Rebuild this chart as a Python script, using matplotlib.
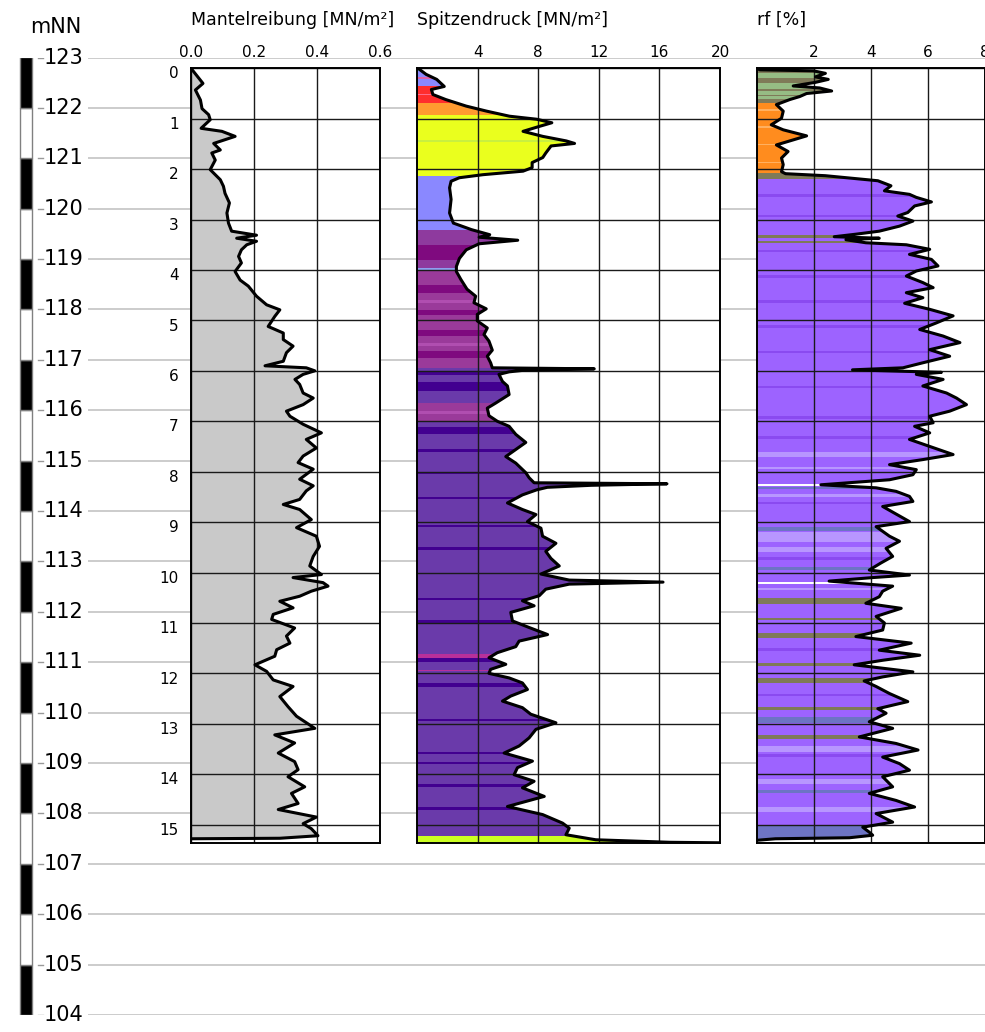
import numpy as np
import matplotlib.pyplot as plt
from matplotlib.patches import Polygon, Rectangle
from matplotlib import transforms

# elevation scale [mNN]
elev_ticks = list(range(104, 124))

# Mantelreibung [MN/m²] over depth [m]
fs_depth = [0.00, 0.30, 0.43, 0.63, 0.80, 0.92, 1.02, 1.19, 1.25, 1.35,
            1.49, 1.62, 1.68, 1.82, 2.01, 2.21, 2.34, 2.48, 2.67, 2.87,
            3.07, 3.23, 3.31, 3.37, 3.43, 3.50, 3.60, 3.73, 3.86, 4.03,
            4.20, 4.32, 4.52, 4.69, 4.79, 4.92, 5.12, 5.25, 5.38, 5.51,
            5.64, 5.81, 5.90, 5.94, 6.00, 6.07, 6.17, 6.27, 6.44, 6.54,
            6.67, 6.80, 6.90, 7.06, 7.23, 7.36, 7.53, 7.69, 7.82, 7.95,
            8.15, 8.28, 8.38, 8.55, 8.65, 8.75, 8.95, 9.11, 9.28, 9.48,
            9.68, 9.87, 10.04, 10.10, 10.20, 10.27, 10.37, 10.47, 10.57, 10.70,
            10.83, 10.93, 11.10, 11.26, 11.40, 11.53, 11.66, 11.83, 11.96, 12.13,
            12.26, 12.46, 12.66, 12.85, 13.09, 13.22, 13.38, 13.58, 13.75, 13.91,
            14.05, 14.25, 14.38, 14.58, 14.70, 14.85, 14.98, 15.08, 15.22, 15.27,
            15.28]
fs_value = [0.000, 0.038, 0.014, 0.030, 0.035, 0.056, 0.061, 0.032, 0.098, 0.140,
            0.072, 0.093, 0.066, 0.077, 0.061, 0.093, 0.103, 0.108, 0.122, 0.114,
            0.119, 0.129, 0.208, 0.145, 0.208, 0.177, 0.160, 0.151, 0.160, 0.140,
            0.156, 0.182, 0.208, 0.240, 0.282, 0.266, 0.245, 0.293, 0.293, 0.324,
            0.303, 0.293, 0.235, 0.366, 0.393, 0.356, 0.330, 0.345, 0.356, 0.388,
            0.356, 0.303, 0.314, 0.356, 0.414, 0.366, 0.398, 0.356, 0.340, 0.388,
            0.345, 0.388, 0.366, 0.345, 0.293, 0.345, 0.382, 0.335, 0.398, 0.408,
            0.388, 0.377, 0.414, 0.324, 0.419, 0.435, 0.382, 0.345, 0.282, 0.324,
            0.261, 0.256, 0.329, 0.303, 0.314, 0.272, 0.266, 0.203, 0.240, 0.261,
            0.324, 0.282, 0.308, 0.335, 0.393, 0.266, 0.329, 0.277, 0.329, 0.340,
            0.308, 0.361, 0.319, 0.340, 0.277, 0.398, 0.356, 0.382, 0.403, 0.282,
            0.000]

# Spitzendruck [MN/m²]
qc_depth = [0.00, 0.12, 0.22, 0.36, 0.42, 0.52, 0.62, 0.75, 0.85, 0.95,
            1.01, 1.08, 1.15, 1.25, 1.35, 1.44, 1.49, 1.54, 1.68, 1.77,
            1.87, 1.97, 2.04, 2.11, 2.17, 2.24, 2.37, 2.60, 2.87, 3.07,
            3.20, 3.30, 3.35, 3.41, 3.48, 3.60, 3.77, 3.93, 4.03, 4.19,
            4.38, 4.52, 4.65, 4.77, 4.88, 5.01, 5.15, 5.28, 5.41, 5.59,
            5.71, 5.84, 5.94, 5.96, 5.99, 6.02, 6.07, 6.21, 6.30, 6.47,
            6.64, 6.74, 6.89, 7.00, 7.10, 7.26, 7.42, 7.56, 7.70, 7.83,
            8.02, 8.12, 8.22, 8.24, 8.27, 8.31, 8.36, 8.46, 8.62, 8.75,
            8.85, 8.99, 9.12, 9.28, 9.42, 9.58, 9.72, 9.87, 10.03, 10.15,
            10.19, 10.23, 10.33, 10.46, 10.56, 10.66, 10.79, 10.96, 11.09, 11.23,
            11.36, 11.47, 11.59, 11.69, 11.82, 11.92, 12.00, 12.09, 12.19, 12.32,
            12.45, 12.55, 12.68, 12.81, 12.98, 13.11, 13.28, 13.44, 13.58, 13.74,
            13.87, 14.01, 14.14, 14.27, 14.44, 14.64, 14.80, 14.97, 15.07, 15.20,
            15.30, 15.35, 15.36]
qc_value = [0.07, 0.60, 1.30, 1.80, 0.95, 1.05, 1.90, 3.25, 4.60, 6.10,
            7.90, 8.90, 8.10, 7.00, 8.30, 9.85, 10.40, 8.85, 8.50, 8.30,
            7.60, 7.60, 7.00, 4.35, 2.80, 2.25, 2.15, 2.25, 2.15, 2.40,
            3.60, 4.80, 4.10, 6.65, 4.10, 3.25, 2.80, 2.60, 2.60, 2.90,
            3.30, 3.87, 3.76, 4.57, 3.98, 3.98, 4.64, 4.42, 4.75, 4.97,
            4.64, 4.86, 4.97, 11.70, 7.00, 6.08, 5.41, 5.64, 5.97, 6.08,
            5.19, 4.64, 4.75, 5.30, 6.08, 6.52, 7.18, 6.52, 5.86, 6.52,
            7.18, 7.40, 7.73, 16.50, 11.50, 8.60, 7.90, 6.96, 5.97, 6.96,
            7.85, 7.29, 8.18, 8.29, 9.17, 8.50, 8.84, 9.39, 8.18, 10.05,
            16.24, 10.05, 8.50, 8.07, 6.96, 7.73, 6.19, 6.30, 7.40, 8.62,
            6.74, 6.52, 5.30, 4.75, 5.86, 4.86, 4.75, 6.08, 6.96, 7.29,
            6.19, 5.64, 6.96, 7.51, 9.17, 7.85, 7.40, 6.74, 5.75, 7.62,
            6.63, 6.41, 7.73, 6.96, 8.40, 5.97, 8.29, 9.61, 10.05, 9.83,
            11.80, 16.70, 20.00]

# Reibungsverhältnis rf [%]
rf_depth = [0.00, 0.03, 0.05, 0.10, 0.17, 0.22, 0.28, 0.35, 0.39, 0.45,
            0.50, 0.56, 0.62, 0.72, 0.85, 0.99, 1.12, 1.22, 1.34, 1.42,
            1.52, 1.65, 1.78, 1.91, 2.05, 2.09, 2.13, 2.23, 2.33, 2.43,
            2.50, 2.56, 2.65, 2.73, 2.86, 2.93, 3.03, 3.13, 3.23, 3.29,
            3.34, 3.37, 3.40, 3.46, 3.50, 3.59, 3.69, 3.79, 3.92, 4.02,
            4.12, 4.25, 4.35, 4.45, 4.55, 4.66, 4.78, 4.91, 5.05, 5.18,
            5.31, 5.44, 5.58, 5.71, 5.84, 5.94, 5.98, 6.03, 6.07, 6.17,
            6.30, 6.44, 6.54, 6.67, 6.80, 6.90, 7.03, 7.10, 7.23, 7.36,
            7.50, 7.66, 7.76, 7.86, 7.96, 8.06, 8.16, 8.26, 8.32, 8.39,
            8.49, 8.59, 8.69, 8.82, 8.99, 9.09, 9.28, 9.38, 9.52, 9.68,
            9.81, 9.95, 10.05, 10.10, 10.17, 10.27, 10.37, 10.48, 10.61, 10.71,
            10.87, 11.00, 11.14, 11.27, 11.40, 11.54, 11.64, 11.74, 11.83, 11.97,
            12.07, 12.15, 12.26, 12.40, 12.56, 12.70, 12.79, 12.96, 13.09, 13.26,
            13.39, 13.52, 13.66, 13.79, 13.92, 14.05, 14.25, 14.38, 14.52, 14.65,
            14.78, 14.95, 15.05, 15.15, 15.21, 15.26, 15.28, 15.31]
rf_value = [0.00, 0.10, 1.98, 2.40, 2.05, 2.50, 2.04, 1.27, 2.20, 2.62,
            1.74, 1.50, 1.15, 0.68, 0.92, 0.86, 0.50, 0.92, 1.74, 1.27,
            0.68, 1.09, 0.86, 0.92, 0.86, 1.00, 2.40, 4.24, 4.70, 4.47,
            5.35, 5.59, 6.12, 5.53, 5.29, 4.94, 5.47, 5.00, 4.29, 3.47,
            2.71, 4.29, 3.12, 3.82, 5.24, 6.06, 5.35, 6.12, 6.35, 5.59,
            5.24, 5.82, 6.18, 5.24, 5.82, 5.18, 6.06, 6.88, 6.29, 5.71,
            6.53, 7.12, 6.06, 6.76, 5.82, 5.12, 3.35, 6.47, 5.59, 6.53,
            5.82, 6.65, 7.00, 7.35, 6.76, 6.06, 6.18, 5.53, 6.06, 5.35,
            6.06, 6.88, 5.82, 4.65, 5.59, 5.47, 4.65, 2.24, 4.18, 4.88,
            5.35, 5.47, 4.41, 4.82, 5.35, 4.18, 4.65, 5.00, 4.53, 4.76,
            4.35, 3.94, 5.35, 4.06, 2.53, 4.76, 4.41, 4.29, 3.82, 5.06,
            4.18, 4.47, 4.41, 3.47, 5.41, 4.29, 5.71, 4.41, 3.41, 5.47,
            4.41, 3.76, 4.18, 4.65, 5.29, 4.24, 4.53, 3.94, 4.76, 3.59,
            4.88, 5.65, 4.41, 5.00, 5.35, 4.41, 4.76, 3.94, 4.88, 5.53,
            4.18, 4.76, 3.71, 3.94, 4.06, 3.24, 0.65, 0.00]

# soil class colours
palette = {
    'grau': '#c9c9c9', 'cyan': '#50c8e8', 'blau': '#8a88ff', 'rosa': '#e060a8',
    'rot': '#ff2d2d', 'lachs': '#ff6a8a', 'orange_qc': '#ff9a30', 'gelb': '#eaff1e',
    'gelbgruen': '#c8f040', 'purpur': '#8e3a9e', 'dunkelpurpur': '#7f0a7f',
    'hellblau': '#8ea0f0', 'magenta': '#9a3a9a', 'hellmagenta': '#b04eb0',
    'violett': '#6a3aaa', 'indigo': '#420090', 'pink': '#b8309a', 'limette': '#ccff22',
    'oliv': '#7f7a58', 'gruen': '#96bc84', 'orange': '#ff8c1e', 'hellorange': '#ffb060',
    'lila': '#9d63ff', 'dunkellila': '#8a4af0', 'lavendel': '#b896ff',
    'graublau': '#6d74c4', 'weiss': '#ffffff',
}

fs_layers = [(0.0, 15.4, 'grau')]

qc_layers = [
    (0.00, 0.06, 'cyan'), (0.06, 0.36, 'blau'), (0.18, 0.22, 'rosa'),
    (0.36, 0.68, 'rot'), (0.50, 0.53, 'lachs'), (0.68, 0.92, 'orange_qc'),
    (0.92, 2.14, 'gelb'), (1.42, 1.47, 'gelbgruen'), (2.14, 3.20, 'blau'),
    (3.20, 3.50, 'purpur'), (3.50, 3.80, 'dunkelpurpur'), (3.80, 3.97, 'purpur'),
    (3.97, 4.02, 'hellblau'), (4.02, 5.95, 'magenta'),
    (4.30, 4.45, 'dunkelpurpur'), (4.80, 4.90, 'dunkelpurpur'), (5.20, 5.30, 'dunkelpurpur'),
    (5.60, 5.75, 'dunkelpurpur'), (4.60, 4.65, 'hellmagenta'), (5.45, 5.50, 'hellmagenta'),
    (5.95, 6.64, 'violett'), (6.00, 6.08, 'indigo'), (6.22, 6.40, 'indigo'),
    (6.64, 7.00, 'magenta'), (6.80, 6.85, 'hellmagenta'), (7.00, 15.22, 'violett'),
    (7.12, 7.25, 'indigo'), (7.55, 7.60, 'indigo'), (8.00, 8.05, 'indigo'),
    (8.50, 8.55, 'indigo'), (9.05, 9.10, 'indigo'), (9.50, 9.55, 'indigo'),
    (10.50, 10.55, 'indigo'), (10.95, 11.00, 'indigo'), (11.70, 11.78, 'indigo'),
    (12.20, 12.28, 'indigo'), (12.90, 12.95, 'indigo'), (13.55, 13.60, 'indigo'),
    (13.75, 13.80, 'indigo'), (14.20, 14.25, 'indigo'), (14.65, 14.70, 'indigo'),
    (11.62, 11.70, 'pink'), (11.93, 11.96, 'pink'), (15.22, 15.40, 'limette'),
]

rf_layers = [
    (0.00, 0.10, 'oliv'), (0.10, 0.20, 'gruen'), (0.20, 0.30, 'oliv'),
    (0.30, 0.60, 'gruen'), (0.42, 0.45, 'oliv'), (0.52, 0.55, 'oliv'),
    (0.60, 0.68, 'oliv'), (0.68, 2.08, 'orange'), (0.80, 0.84, 'hellorange'),
    (1.15, 1.19, 'hellorange'), (1.50, 1.53, 'hellorange'), (1.85, 1.88, 'hellorange'),
    (2.08, 2.20, 'oliv'), (2.20, 15.40, 'lila'),
    (2.50, 2.55, 'dunkellila'), (2.90, 2.95, 'dunkellila'), (3.60, 3.65, 'dunkellila'),
    (4.10, 4.15, 'dunkellila'), (4.60, 4.65, 'dunkellila'), (5.10, 5.15, 'dunkellila'),
    (5.60, 5.65, 'dunkellila'), (6.30, 6.35, 'dunkellila'), (6.90, 6.95, 'dunkellila'),
    (7.30, 7.35, 'dunkellila'), (8.60, 8.65, 'dunkellila'), (9.70, 9.75, 'dunkellila'),
    (11.50, 11.55, 'dunkellila'), (12.40, 12.45, 'dunkellila'), (13.60, 13.65, 'dunkellila'),
    (7.60, 7.70, 'lavendel'), (7.90, 7.95, 'lavendel'), (8.45, 8.50, 'lavendel'),
    (9.20, 9.40, 'lavendel'), (9.50, 9.60, 'lavendel'), (10.30, 10.35, 'lavendel'),
    (13.45, 13.55, 'lavendel'), (14.10, 14.20, 'lavendel'), (14.65, 14.75, 'lavendel'),
    (3.30, 3.36, 'oliv'), (3.42, 3.46, 'oliv'), (10.51, 10.63, 'oliv'),
    (10.90, 10.95, 'oliv'), (11.20, 11.29, 'oliv'), (11.80, 11.86, 'oliv'),
    (12.10, 12.19, 'oliv'), (12.66, 12.72, 'oliv'), (13.22, 13.31, 'oliv'),
    (8.31, 8.35, 'graublau'), (9.09, 9.17, 'graublau'), (9.89, 9.95, 'graublau'),
    (12.86, 12.98, 'graublau'), (14.32, 14.37, 'graublau'), (15.00, 15.40, 'graublau'),
    (8.24, 8.29, 'weiss'), (10.19, 10.22, 'weiss'),
]

W, H = 985, 1032
DEPTH_MAX = 15.37
fig = plt.figure(figsize=(W / 100, H / 100), dpi=100)


def px_box(left, right, top, bottom):
    return [left / W, 1 - bottom / H, (right - left) / W, (bottom - top) / H]


# elevation scale with the light grid lines across the sheet
ax_el = fig.add_axes([0, 1 - 1015 / H, 1, (1015 - 57.5) / H], zorder=0)
ax_el.set_xlim(0, W)
ax_el.set_ylim(104, 123)
ax_el.axis('off')
for e in elev_ticks:
    ax_el.plot([88, W], [e, e], color='#c8c8c8', lw=1.3, solid_capstyle='butt')
    ax_el.plot([38, 43], [e, e], color='#999999', lw=1.0)
    ax_el.text(44, e, str(e), fontsize=15, va='center', ha='left')
for e in elev_ticks[:-1]:
    black = (123 - (e + 1)) % 2 == 0
    ax_el.add_patch(Rectangle((20, e), 12, 1, facecolor='black' if black else 'white',
                              edgecolor='#808080', lw=1.0))
fig.text(30 / W, 1 - 27 / H, 'mNN', fontsize=15, va='center', ha='left')


def draw_panel(box, depth, value, xmax, xticks, xlabels, title, layers, depth_labels=False):
    ax = fig.add_axes(px_box(*box), zorder=2)
    ax.set_facecolor('white')
    ax.set_xlim(0, xmax)
    ax.set_ylim(DEPTH_MAX, 0)

    outline = Polygon(np.column_stack([np.r_[0, value, 0], np.r_[depth[0], depth, depth[-1]]]),
                      closed=True, facecolor='none', edgecolor='none')
    ax.add_patch(outline)
    for top, bot, kind in layers:
        span = ax.axhspan(top, bot, facecolor=palette[kind], edgecolor='none', zorder=1)
        span.set_clip_path(outline)
    ax.plot(value, depth, color='black', lw=2.2, zorder=4, solid_joinstyle='round')

    ax.xaxis.tick_top()
    ax.set_xticks(xticks)
    ax.set_xticklabels(xlabels)
    ax.tick_params(axis='x', length=0, pad=6, labelsize=11)
    ax.set_yticks(range(16))
    if depth_labels:
        ax.tick_params(axis='y', length=0, pad=9, labelsize=11)
        shift = transforms.ScaledTranslation(0, -3 / 72, fig.dpi_scale_trans)
        for lab in ax.get_yticklabels():
            lab.set_transform(lab.get_transform() + shift)
    else:
        ax.tick_params(axis='y', length=0, labelleft=False)
    ax.set_axisbelow(False)
    ax.grid(True, color='#1a1a1a', lw=1.0)
    for sp in ax.spines.values():
        sp.set_linewidth(1.4)
        sp.set_zorder(5)
    fig.text(box[0] / W, 1 - 25 / H, title, fontsize=12.5, ha='left', va='baseline')
    return ax


draw_panel((191, 380, 68.3, 843.3), fs_depth, fs_value, 0.6,
           [0, 0.2, 0.4, 0.6], ['0.0', '0.2', '0.4', '0.6'],
           'Mantelreibung [MN/m²]', fs_layers, depth_labels=True)
draw_panel((417, 720, 68.3, 843.3), qc_depth, qc_value, 20,
           [4, 8, 12, 16, 20], ['4', '8', '12', '16', '20'],
           'Spitzendruck [MN/m²]', qc_layers)
draw_panel((757, 985, 68.3, 843.3), rf_depth, rf_value, 8,
           [2, 4, 6, 8], ['2', '4', '6', '8'],
           'rf [%]', rf_layers)

fig.savefig('out.png', dpi=100)
